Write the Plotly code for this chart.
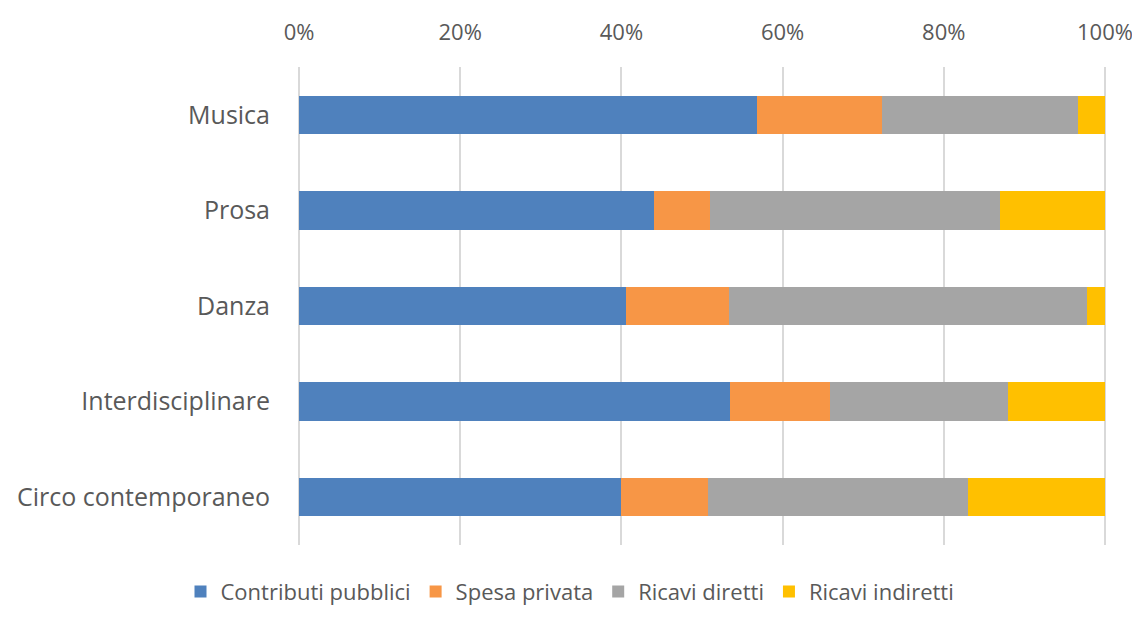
import plotly.graph_objects as go

categories = ["Musica", "Prosa", "Danza", "Interdisciplinare", "Circo contemporaneo"]
contributi_pubblici = [56.8, 44.0, 40.6, 53.5, 40.0]
spesa_privata = [15.5, 7.0, 12.7, 12.4, 10.8]
ricavi_diretti = [24.4, 36.0, 44.5, 22.1, 32.2]
ricavi_indiretti = [3.3, 13.0, 2.2, 12.0, 17.0]

series = [
    ("Contributi pubblici", contributi_pubblici, "#4f81bd"),
    ("Spesa privata", spesa_privata, "#f79646"),
    ("Ricavi diretti", ricavi_diretti, "#a5a5a5"),
    ("Ricavi indiretti", ricavi_indiretti, "#ffc000"),
]

fig = go.Figure()
for name, vals, color in series:
    fig.add_trace(go.Bar(
        y=categories, x=vals, name=name, orientation="h",
        marker=dict(color=color, line=dict(width=0)),
    ))

# page body has an 8px margin, so the figure is sized and offset for that
fig.update_layout(
    barmode="stack",
    bargap=0.6,
    width=1124, height=603,
    margin=dict(l=289, r=25, t=59, b=66),
    paper_bgcolor="white", plot_bgcolor="white",
    font=dict(family="Open Sans", size=24, color="#595959"),
    legend=dict(orientation="h", xref="container", x=0.5, xanchor="center",
                yref="container", y=0.032, yanchor="middle",
                font=dict(size=22), traceorder="normal"),
    showlegend=True,
)
# small padding so the 0% and 100% gridlines are drawn
fig.update_xaxes(
    side="top", range=[-0.25, 100.25], tickvals=[0, 20, 40, 60, 80, 100],
    ticktext=["0%", "20%", "40%", "60%", "80%", "100%"],
    showgrid=True, gridcolor="#d9d9d9", gridwidth=1.5,
    zeroline=False, showline=False, ticks="", ticklabelstandoff=22,
    automargin=False, tickfont=dict(size=22), ticklabeloverflow="allow",
)
fig.update_yaxes(
    autorange="reversed", showgrid=False, zeroline=False, showline=False,
    ticks="", ticklabelstandoff=26, automargin=False, tickfont=dict(size=25),
)

fig.write_html("out.html")
